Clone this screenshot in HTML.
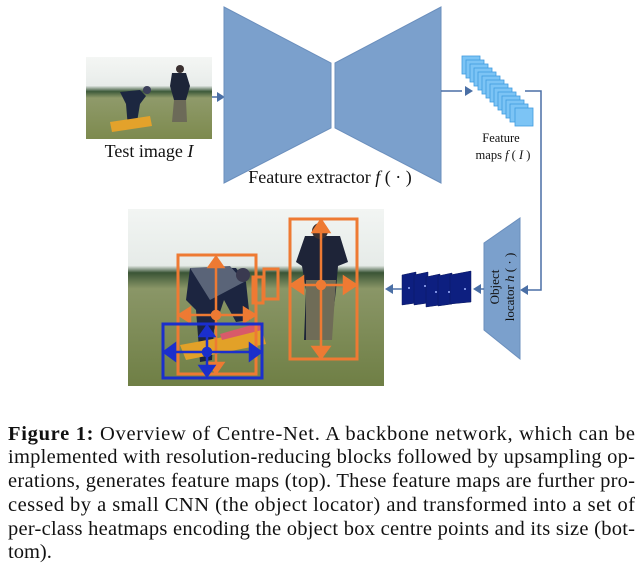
<!DOCTYPE html>
<html><head><meta charset="utf-8"><style>
html,body{margin:0;padding:0;background:#fff;}
svg{display:block;}
text{font-family:"Liberation Serif",serif;fill:#111;}
</style></head><body>
<svg width="640" height="570" viewBox="0 0 640 570" xmlns="http://www.w3.org/2000/svg">
<defs>
<linearGradient id="sky1" x1="0" y1="0" x2="0" y2="1">
<stop offset="0" stop-color="#f4f6f4"/><stop offset="0.35" stop-color="#e8ecea"/><stop offset="0.42" stop-color="#3d5a3a"/><stop offset="0.5" stop-color="#8f9a6a"/><stop offset="1" stop-color="#7d8a4e"/>
</linearGradient>
<linearGradient id="sky2" x1="0" y1="0" x2="0" y2="1">
<stop offset="0" stop-color="#f2f5f3"/><stop offset="0.32" stop-color="#e6ebe8"/><stop offset="0.36" stop-color="#3a5536"/><stop offset="0.45" stop-color="#8a9667"/><stop offset="1" stop-color="#6f7f45"/>
</linearGradient>
</defs>
<rect x="86" y="57" width="126" height="82" fill="url(#sky1)"/>
<path d="M120 92 L140 90 L146 96 L140 104 L136 128 L128 128 L126 104 Z" fill="#1c2740"/>
<circle cx="147" cy="90" r="4" fill="#3b3f5a"/>
<path d="M172 73 L186 73 L190 86 L186 100 L186 122 L182 122 L180 102 L178 122 L174 122 L174 100 L170 86 Z" fill="#1d2538"/>
<path d="M174 100 L186 100 L187 122 L172 122 Z" fill="#6c6a58"/>
<circle cx="180" cy="69" r="4" fill="#3a3030"/>
<path d="M110 122 L150 116 L152 126 L112 132 Z" fill="#e3a22b"/>
<line x1="212" y1="97" x2="218" y2="97" stroke="#4a6fa5" stroke-width="1.5"/>
<polygon points="217,92 225,97 217,102" fill="#4a6fa5"/>
<polygon points="224,7 331,63 331,128 224,183" fill="#7ba0cc" stroke="#6b8fbd" stroke-width="1"/>
<polygon points="335,63 441,7 441,183 335,128" fill="#7ba0cc" stroke="#6b8fbd" stroke-width="1"/>
<line x1="441" y1="91" x2="462" y2="91" stroke="#4a6fa5" stroke-width="1.5"/>
<polygon points="465,86 473,91 465,96" fill="#4a6fa5"/>
<g fill="#7cc4f5" stroke="#3f9be0" stroke-width="0.8">
<rect x="462" y="56" width="18" height="18"/><rect x="466" y="60" width="18" height="18"/><rect x="470" y="64" width="18" height="18"/>
<rect x="474" y="68" width="18" height="18"/><rect x="478" y="72" width="18" height="18"/><rect x="482" y="76" width="18" height="18"/>
<rect x="486" y="80" width="18" height="18"/><rect x="490" y="84" width="18" height="18"/><rect x="494" y="88" width="18" height="18"/>
<rect x="498" y="92" width="18" height="18"/><rect x="502" y="96" width="18" height="18"/><rect x="506" y="100" width="18" height="18"/>
<rect x="510" y="104" width="18" height="18"/><rect x="515" y="108" width="18" height="18"/>
</g>
<polyline points="525,91 541,91 541,290 528,290" fill="none" stroke="#4a6fa5" stroke-width="1.5"/>
<polygon points="528,285 520,290 528,295" fill="#4a6fa5"/>
<text x="501" y="142" font-size="12.5" text-anchor="middle">Feature</text>
<text x="503" y="159" font-size="12.5" text-anchor="middle">maps <tspan font-style="italic">f</tspan> ( <tspan font-style="italic">I</tspan> )</text>
<text x="149" y="157" font-size="18" text-anchor="middle">Test image <tspan font-style="italic">I</tspan></text>
<text x="330" y="183" font-size="18" text-anchor="middle">Feature extractor <tspan font-style="italic">f</tspan> ( · )</text>
<polygon points="484,243 520,218 520,359 484,330" fill="#7ba0cc" stroke="#6b8fbd"/>
<text transform="translate(503,287) rotate(-90)" font-size="13" text-anchor="middle"><tspan x="0" y="-4">Object</tspan><tspan x="0" y="11">locator <tspan font-style="italic">h</tspan> ( · )</tspan></text>
<line x1="484" y1="289" x2="478" y2="289" stroke="#4a6fa5" stroke-width="1.5"/>
<polygon points="481,284 473,289 481,294" fill="#4a6fa5"/>
<g fill="#0d1f80" stroke="#0a1860" stroke-width="0.5">
<polygon points="402,275 416,272 416,303 402,305"/><polygon points="414,275 428,272 428,303 414,305"/><polygon points="426,277 440,274 440,305 426,307"/>
<polygon points="438,276 452,273 452,304 438,306"/><polygon points="450,275 471,271 471,302 450,304"/>
</g>
<g fill="#9fb4ff"><circle cx="409" cy="288" r="1"/><circle cx="425" cy="286" r="1"/><circle cx="436" cy="292" r="1"/><circle cx="449" cy="292" r="1"/><circle cx="465" cy="289" r="1"/></g>
<line x1="402" y1="289" x2="392" y2="289" stroke="#4a6fa5" stroke-width="1.5"/>
<polygon points="393,284 385,289 393,294" fill="#4a6fa5"/>
<rect x="128" y="209" width="256" height="177" fill="url(#sky2)"/>
<path d="M190 268 L236 268 L246 282 L250 320 L236 322 L224 300 L214 330 L212 360 L200 362 L196 310 L186 300 Z" fill="#1c2540"/>
<path d="M190 268 L230 266 L244 282 L210 300 Z" fill="#5a6478"/>
<circle cx="243" cy="275" r="7" fill="#3a3a50"/>
<path d="M305 236 L340 236 L348 262 L338 266 L336 290 L330 340 L320 340 L318 300 L314 340 L304 340 L306 290 L302 266 L296 262 Z" fill="#1e2438"/>
<path d="M306 280 L336 280 L332 340 L306 340 Z" fill="#6f6c57"/>
<circle cx="320" cy="231" r="8" fill="#3b3030"/>
<path d="M180 345 L262 330 L266 344 L186 360 Z" fill="#e2a128"/>
<path d="M220 334 L262 322 L262 330 L222 340 Z" fill="#d85a6a"/>
<g fill="none" stroke="#ee7a33" stroke-width="3">
<rect x="178" y="255" width="78" height="119"/><rect x="290" y="219" width="67" height="140"/>
<rect x="253" y="277" width="10" height="26"/><rect x="264" y="269" width="14" height="30"/>
</g>
<g stroke="#ee7a33" stroke-width="2.5" fill="#ee7a33">
<line x1="216" y1="262" x2="216" y2="368"/><line x1="184" y1="315" x2="250" y2="315"/>
<polygon points="209,267 216,257 223,267"/><polygon points="209,363 216,373 223,363"/>
<polygon points="190,308 179,315 190,322"/><polygon points="244,308 255,315 244,322"/>
<circle cx="216" cy="315" r="4"/>
<line x1="321" y1="226" x2="321" y2="352"/><line x1="296" y1="285" x2="351" y2="285"/>
<polygon points="313,232 321,220 329,232"/><polygon points="313,347 321,358 329,347"/>
<polygon points="303,277 291,285 303,293"/><polygon points="344,277 356,285 344,293"/>
<circle cx="321" cy="285" r="4"/>
</g>
<rect x="163" y="324" width="99" height="54" fill="none" stroke="#1b2fcc" stroke-width="3"/>
<g stroke="#1b2fcc" stroke-width="2.5" fill="#1b2fcc">
<line x1="207" y1="330" x2="207" y2="374"/><line x1="168" y1="352" x2="256" y2="352"/>
<polygon points="200,336 207,326 214,336"/><polygon points="200,366 207,376 214,366"/>
<polygon points="175,344 164,352 175,360"/><polygon points="250,344 261,352 250,360"/>
<circle cx="207" cy="352" r="4"/>
</g>
<g font-size="20.5">
<text x="8" y="440" textLength="627" lengthAdjust="spacing"><tspan font-weight="bold">Figure 1:</tspan> Overview of Centre-Net.  A backbone network, which can be</text>
<text x="8" y="463" textLength="627" lengthAdjust="spacing">implemented with resolution-reducing blocks followed by upsampling op-</text>
<text x="8" y="487" textLength="627" lengthAdjust="spacing">erations, generates feature maps (top). These feature maps are further pro-</text>
<text x="8" y="511" textLength="627" lengthAdjust="spacing">cessed by a small CNN (the object locator) and transformed into a set of</text>
<text x="8" y="535" textLength="627" lengthAdjust="spacing">per-class heatmaps encoding the object box centre points and its size (bot-</text>
<text x="8" y="558">tom).</text>
</g>
</svg>
</body></html>
